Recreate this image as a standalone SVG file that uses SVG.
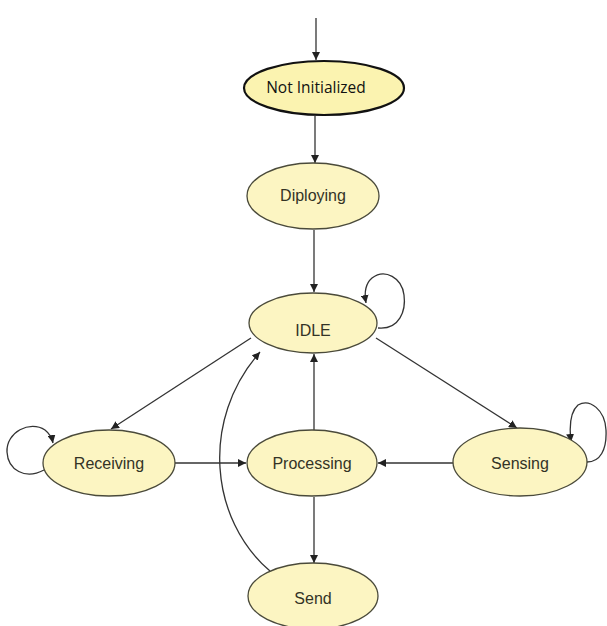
<svg xmlns="http://www.w3.org/2000/svg" width="607" height="626" viewBox="0 0 607 626">
<style>
.st{fill:#fcf5c2;stroke:#4a4a3a;stroke-width:1.3}
.st0{fill:#fbf3b0;stroke:#111;stroke-width:2.2}
.lb{font-family:"Liberation Sans",Arial,sans-serif;font-size:16px;fill:#333326;text-anchor:middle;dominant-baseline:central}
.lb0{font-family:"Open Sans","Liberation Sans",sans-serif;font-size:15.5px;fill:#111;text-anchor:middle;dominant-baseline:central}
.c{fill:none;stroke:#333;stroke-width:1.3}
</style>
<defs>
<marker id="ah" viewBox="0 0 10 10" refX="10" refY="5" markerWidth="8" markerHeight="8" markerUnits="userSpaceOnUse" orient="auto">
<path d="M0,0 L10,5 L0,10 z" fill="#222"/>
</marker>
</defs>
<rect width="607" height="626" fill="#fff"/>
<g id="connectors">
<line class="c" x1="316" y1="18" x2="316" y2="60" marker-end="url(#ah)"/>
<line class="c" x1="315" y1="116" x2="315" y2="163" marker-end="url(#ah)"/>
<line class="c" x1="314" y1="230" x2="314" y2="292" marker-end="url(#ah)"/>
<path class="c" d="M378,328 C400,330 406,310 404,295 C402,278 385,268 372,278 C365,284 364,292 366,303" marker-end="url(#ah)"/>
<line class="c" x1="251" y1="338" x2="111" y2="429" marker-end="url(#ah)"/>
<line class="c" x1="376" y1="338" x2="517" y2="428" marker-end="url(#ah)"/>
<path class="c" d="M44,470 C25,480 8,470 7,452 C6,432 30,420 45,430 C50,434 52,438 53,443" marker-end="url(#ah)"/>
<path class="c" d="M587,462 C600,462 607,450 606,430 C605,410 590,398 578,405 C570,412 569,425 571,442" marker-end="url(#ah)"/>
<line class="c" x1="175" y1="463" x2="246" y2="463" marker-end="url(#ah)"/>
<line class="c" x1="453" y1="463" x2="378" y2="463" marker-end="url(#ah)"/>
<line class="c" x1="314" y1="430" x2="314" y2="354" marker-end="url(#ah)"/>
<line class="c" x1="314" y1="497" x2="314" y2="563" marker-end="url(#ah)"/>
<path class="c" d="M270,571 C210,520 200,420 260,352" marker-end="url(#ah)"/>
</g>
<g id="not-initialized">
<ellipse class="st0" cx="324" cy="88" rx="80" ry="27"/>
<text class="lb0" x="316" y="87">Not Initialized</text>
</g>
<g id="diploying">
<ellipse class="st" cx="313" cy="196" rx="66" ry="33"/>
<text class="lb" x="313" y="195">Diploying</text>
</g>
<g id="idle">
<ellipse class="st" cx="313" cy="323" rx="64" ry="30"/>
<text class="lb" x="313" y="330">IDLE</text>
</g>
<g id="receiving">
<ellipse class="st" cx="109" cy="463" rx="66" ry="33"/>
<text class="lb" x="109" y="463">Receiving</text>
</g>
<g id="processing">
<ellipse class="st" cx="312" cy="463" rx="65" ry="33"/>
<text class="lb" x="312" y="463">Processing</text>
</g>
<g id="sensing">
<ellipse class="st" cx="520" cy="462" rx="67" ry="34"/>
<text class="lb" x="520" y="463">Sensing</text>
</g>
<g id="send">
<ellipse class="st" cx="313" cy="596" rx="65" ry="33"/>
<text class="lb" x="313" y="598">Send</text>
</g>
</svg>
